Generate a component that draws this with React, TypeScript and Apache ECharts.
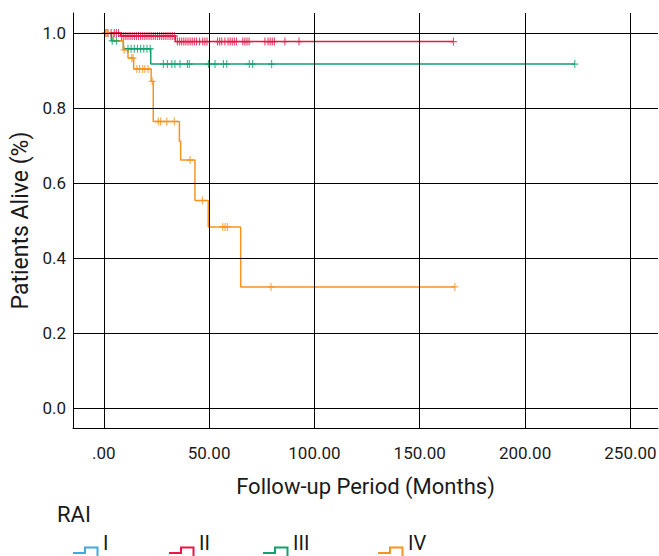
import React, { useEffect, useRef } from "react";
import * as echarts from "echarts";

// ---- data ----
const groupNames = ["I", "II", "III", "IV"];
const groupColors = ["#3FA9E0", "#E8174A", "#12A06E", "#F7941E"];

// Kaplan-Meier steps: survival value holds from the step time onward
const stepTimesI = [0];
const stepSurvI = [1.0];
const endI = 1;
const censorI: number[] = [];

const stepTimesII = [0, 8, 34];
const stepSurvII = [1.0, 0.992, 0.977];
const endII = 166;
const censorII = [
  1, 2, 3.5, 5, 6, 7, 8.5, 9.5, 10.5, 11.5, 12.5, 13.5, 14.5, 15.5, 16.5, 17.5, 18.5,
  19.5, 20.5, 21.5, 22.5, 23.5, 24.5, 25.5, 26.5, 27.5, 28.5, 29.5, 30.5, 31.5, 32.5, 33.5,
  35, 36, 37, 38, 39, 40, 41, 42, 43, 44, 45.5, 47, 48, 49, 54, 55, 56, 57.5, 59, 60, 61,
  62, 63, 66, 67, 68, 69, 76.5, 78, 79, 80, 81, 86, 92.7, 166,
];

const stepTimesIII = [0, 3.6, 9.3, 22.3];
const stepSurvIII = [1.0, 0.979, 0.958, 0.917];
const endIII = 223.6;
const censorIII = [
  4, 6, 11.5, 13, 14.5, 16, 17.5, 19, 20.5, 22, 28.3, 30.2, 32.3, 33.8, 36.2, 39.7, 40.6,
  49.7, 52.8, 56.8, 58.4, 69.1, 70.7, 79.7, 223.6,
];

const stepTimesIV = [0, 4.6, 9.3, 11.5, 14.2, 22.5, 23.5, 35.9, 36.5, 43.3, 49.6, 65];
const stepSurvIV = [1.0, 0.979, 0.955, 0.933, 0.904, 0.871, 0.764, 0.711, 0.661, 0.553, 0.483, 0.323];
const endIV = 166.7;
const censorIV = [
  0.7, 1.5, 9.7, 13.3, 13.9, 15.7, 17, 18.5, 19.5, 21, 23, 25.9, 27, 29.9, 33.5, 41, 46.8,
  56.5, 57.6, 58.7, 79.4, 166.7,
];

const xTicks = [0, 50, 100, 150, 200, 250];
const yTicks = [0, 0.2, 0.4, 0.6, 0.8, 1.0];

const allTimes = [stepTimesI, stepTimesII, stepTimesIII, stepTimesIV];
const allSurv = [stepSurvI, stepSurvII, stepSurvIII, stepSurvIV];
const allEnds = [endI, endII, endIII, endIV];
const allCensor = [censorI, censorII, censorIII, censorIV];

const FONT = "Roboto, 'Liberation Sans', sans-serif";
const TEXT = "#1a1a1a";

function survAt(times: number[], surv: number[], t: number) {
  let v = surv[0];
  for (let i = 0; i < times.length; i++) if (times[i] <= t) v = surv[i];
  return v;
}

export default function App() {
  const ref = useRef<HTMLDivElement>(null);
  useEffect(() => {
    if (!ref.current) return;
    const chart = echarts.init(ref.current, undefined, { renderer: "svg" });

    const series: any[] = [];
    groupNames.forEach((name, g) => {
      const times = allTimes[g];
      const surv = allSurv[g];
      const pts = times.map((t, i) => [t, surv[i]]);
      pts.push([allEnds[g], surv[surv.length - 1]]);
      series.push({
        name,
        type: "line",
        step: "end",
        data: pts,
        showSymbol: false,
        lineStyle: { color: groupColors[g], width: 1.5 },
        z: 2,
      });
      series.push({
        name,
        type: "scatter",
        data: allCensor[g].map((t) => [t, survAt(times, surv, t)]),
        symbol: "path://M5,0 L5,10 M0,5 L10,5",
        symbolSize: [7, 8],
        itemStyle: { color: "none", borderColor: groupColors[g], borderWidth: 1.2 },
        z: 2,
      });
    });

    // reference lines (drawn over the curves, as in the original)
    series.push({
      type: "line",
      data: [[0, 1]],
      showSymbol: false,
      lineStyle: { opacity: 0 },
      z: 4,
      markLine: {
        silent: true,
        symbol: ["none", "none"],
        label: { show: false },
        lineStyle: { color: "#000", width: 1, type: "solid" },
        data: [...xTicks.map((v) => ({ xAxis: v })), ...yTicks.map((v) => ({ yAxis: v }))],
      },
    });

    const legendGraphics: any[] = [
      {
        type: "text",
        left: 57,
        top: 503,
        style: { text: "RAI", fontSize: 22, fontFamily: FONT, fill: TEXT },
      },
    ];
    const iconX = [73, 169, 263, 378];
    groupNames.forEach((name, g) => {
      const x0 = iconX[g];
      legendGraphics.push({
        type: "polyline",
        shape: {
          points: [
            [x0, 553],
            [x0 + 12, 553],
            [x0 + 12, 547.5],
            [x0 + 24.5, 547.5],
            [x0 + 24.5, 560],
          ],
        },
        style: { stroke: groupColors[g], lineWidth: 2, fill: "none" },
      });
      legendGraphics.push({
        type: "text",
        left: x0 + 30,
        top: 533,
        style: { text: name, fontSize: 20, fontFamily: FONT, fill: TEXT },
      });
    });

    chart.setOption({
      animation: false,
      grid: { left: 73, right: 1, top: 13, bottom: 128, outerBoundsMode: "none", containLabel: false },
      xAxis: {
        type: "value",
        min: -14.6,
        max: 263.1,
        splitLine: { show: false },
        axisLine: { show: true, onZero: false, lineStyle: { color: "#000", width: 1 } },
        axisTick: { show: false },
        axisLabel: {
          customValues: xTicks,
          formatter: (v: number) => (v === 0 ? ".00" : v.toFixed(2)),
          fontSize: 17,
          fontFamily: FONT,
          color: TEXT,
          margin: 16,
        },
        name: "Follow-up Period (Months)",
        nameLocation: "middle",
        nameGap: 47,
        nameTextStyle: { fontSize: 22, fontFamily: FONT, color: TEXT },
      },
      yAxis: {
        type: "value",
        min: -0.0533,
        max: 1.0533,
        splitLine: { show: false },
        axisLine: { show: true, onZero: false, lineStyle: { color: "#000", width: 1 } },
        axisTick: { show: false },
        axisLabel: {
          customValues: yTicks,
          formatter: (v: number) => v.toFixed(1),
          fontSize: 17,
          fontFamily: FONT,
          color: TEXT,
          margin: 7,
        },
        name: "Patients Alive (%)",
        nameLocation: "middle",
        nameGap: 40,
        nameTextStyle: { fontSize: 23, fontFamily: FONT, color: TEXT },
      },
      graphic: legendGraphics,
      series,
    });
    return () => chart.dispose();
  }, []);
  return <div ref={ref} style={{ width: 659, height: 556, position: "absolute", left: 0, top: 0 }} />;
}
